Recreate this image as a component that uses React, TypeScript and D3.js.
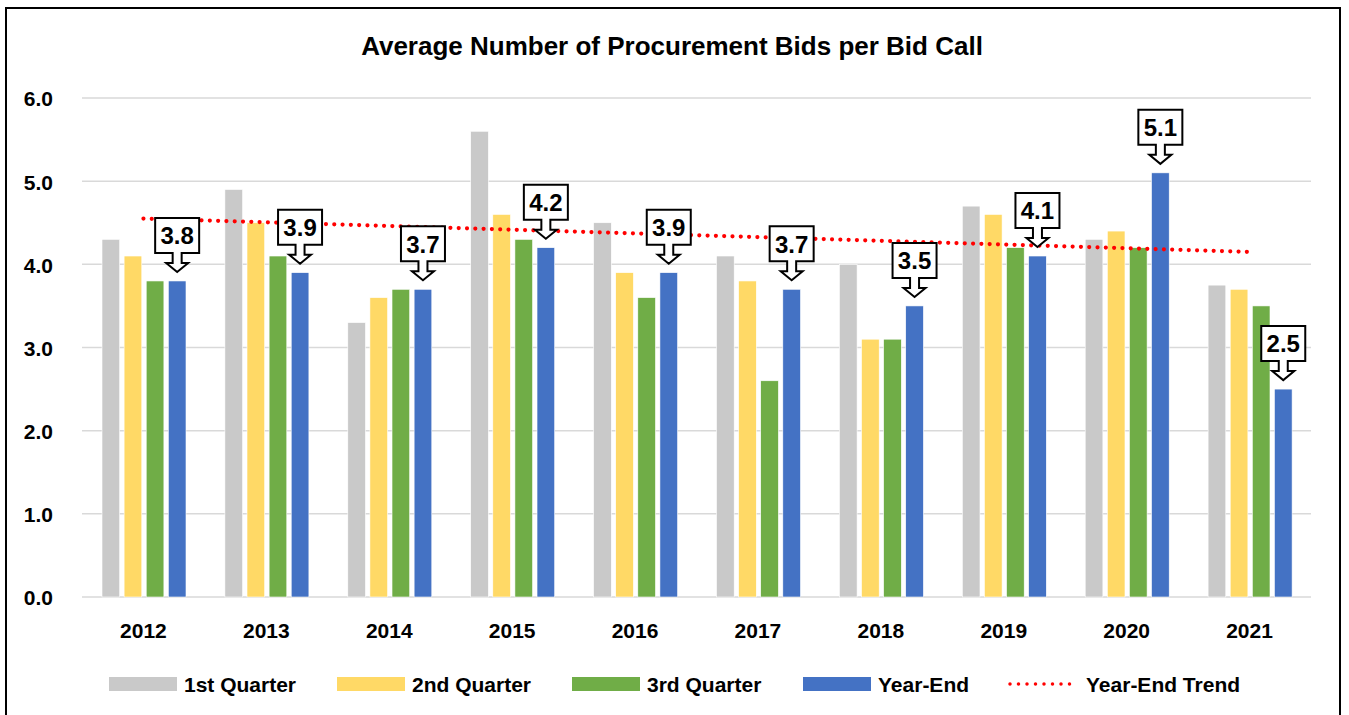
import { scaleBand, scaleLinear, line } from "d3";

const years = ["2012", "2013", "2014", "2015", "2016", "2017", "2018", "2019", "2020", "2021"];
const seriesNames = ["1st Quarter", "2nd Quarter", "3rd Quarter", "Year-End"];
const seriesColors = ["#c9c9c9", "#ffd966", "#70ad47", "#4472c4"];

const q1 = [4.3, 4.9, 3.3, 5.6, 4.5, 4.1, 4.0, 4.7, 4.3, 3.75];
const q2 = [4.1, 4.5, 3.6, 4.6, 3.9, 3.8, 3.1, 4.6, 4.4, 3.7];
const q3 = [3.8, 4.1, 3.7, 4.3, 3.6, 2.6, 3.1, 4.2, 4.2, 3.5];
const yearEnd = [3.8, 3.9, 3.7, 4.2, 3.9, 3.7, 3.5, 4.1, 5.1, 2.5];

// trend endpoints as drawn (2012 -> 2021)
const trendYears = ["2012", "2021"];
const trendValues = [4.55, 4.15];

const yTicks = [0, 1, 2, 3, 4, 5, 6];

const width = 1349;
const height = 715;
const font = "'Liberation Sans Narrow', 'Arial Narrow', Arial, sans-serif";

const x = scaleBand().domain(years).range([82, 1311]);
const xInner = scaleBand().domain(seriesNames).range([20, 104]).paddingInner(0.2);
const y = scaleLinear().domain([0, 6]).range([597, 98]);

const series = [q1, q2, q3, yearEnd];

const calloutPath = (tx, ty) => {
	const l = tx - 22, r = tx + 22, top = ty - 54, bot = ty - 19;
	const s = 4.5, h = 11, hy = ty - 9;
	return `M${l},${top}H${r}V${bot}H${tx + s}V${hy}H${tx + h}L${tx},${ty}L${tx - h},${hy}H${tx - s}V${bot}H${l}Z`;
};

const legendX = [109, 337, 572, 803, 1008];

const App = () => {
	const trendLine = line()
		.x((d) => x(d[0]) + x.bandwidth() / 2)
		.y((d) => y(d[1]));
	const trendPts = trendYears.map((t, i) => [t, trendValues[i]]);

	return (
		<svg
			width={width}
			height={height}
			style={{ position: "absolute", left: 0, top: 0, background: "#fff" }}
			fontFamily={font}
			fontWeight="bold"
		>
			<rect x={6} y={8} width={1334} height={730} fill="#fff" stroke="#000" strokeWidth={2} />
			<text x={672} y={55} textAnchor="middle" fontSize={26}>
				Average Number of Procurement Bids per Bid Call
			</text>

			{yTicks.map((t) => (
				<g key={t}>
					<line x1={82} x2={1311} y1={y(t)} y2={y(t)} stroke="#d9d9d9" strokeWidth={1.5} />
					<text x={53} y={y(t) + 1} dy="0.35em" textAnchor="end" fontSize={21}>
						{t.toFixed(1)}
					</text>
				</g>
			))}

			{years.map((yr, i) => (
				<g key={yr} transform={`translate(${x(yr)},0)`}>
					{series.map((vals, s) => (
						<rect
							key={s}
							x={xInner(seriesNames[s])}
							y={y(vals[i])}
							width={xInner.bandwidth()}
							height={y(0) - y(vals[i])}
							fill={seriesColors[s]}
							stroke="#fff"
							strokeWidth={0.6}
						/>
					))}
					<text x={x.bandwidth() / 2} y={631} dy="0.35em" textAnchor="middle" fontSize={21}>
						{yr}
					</text>
				</g>
			))}

			<path
				d={trendLine(trendPts)}
				fill="none"
				stroke="#ff0000"
				strokeWidth={4.2}
				strokeLinecap="round"
				strokeDasharray="0 8.3"
			/>

			{years.map((yr, i) => {
				const tx = x(yr) + xInner("Year-End") + xInner.bandwidth() / 2;
				const ty = y(yearEnd[i]) - 9;
				return (
					<g key={yr}>
						<path d={calloutPath(tx, ty)} fill="#fff" stroke="#000" strokeWidth={2} />
						<text x={tx} y={ty - 36} dy="0.35em" textAnchor="middle" fontSize={24}>
							{yearEnd[i].toFixed(1)}
						</text>
					</g>
				);
			})}

			{[...seriesNames, "Year-End Trend"].map((name, i) => (
				<g key={name} transform={`translate(${legendX[i]},684)`}>
					{i < 4 ? (
						<rect x={0} y={-7} width={68} height={14} fill={seriesColors[i]} />
					) : (
						<line
							x1={2}
							x2={70}
							y1={0}
							y2={0}
							stroke="#ff0000"
							strokeWidth={3.5}
							strokeLinecap="round"
							strokeDasharray="0 8.5"
						/>
					)}
					<text x={i < 4 ? 75 : 78} y={1} dy="0.35em" fontSize={21}>
						{name}
					</text>
				</g>
			))}
		</svg>
	);
};

export default App;
